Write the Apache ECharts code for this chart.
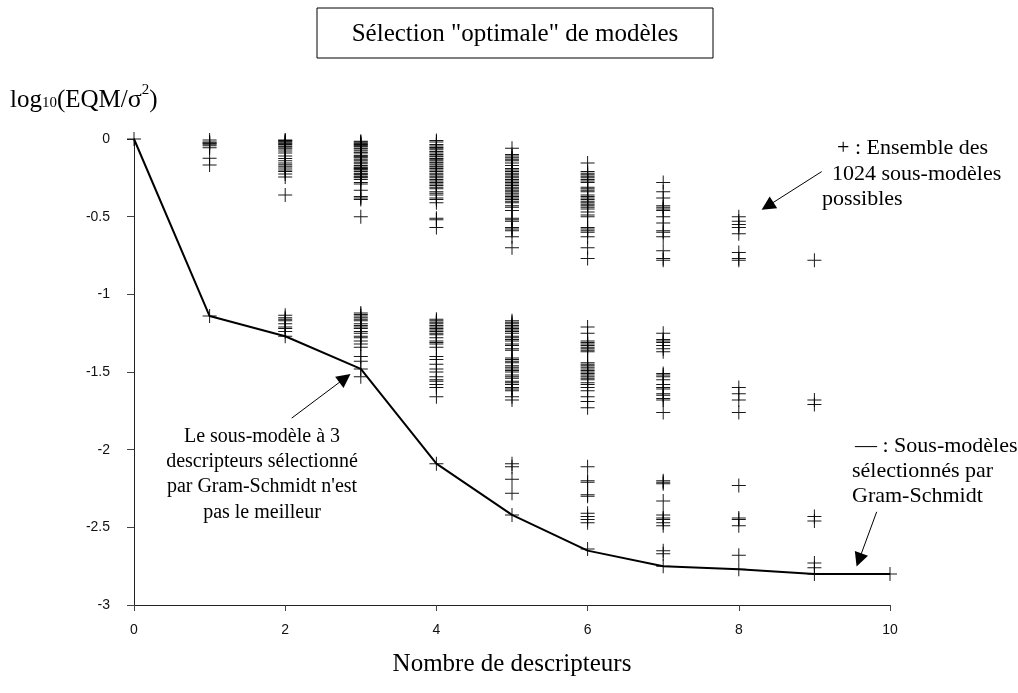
<!DOCTYPE html>
<html><head><meta charset="utf-8">
<script src="https://cdn.jsdelivr.net/npm/echarts@6/dist/echarts.min.js"></script>
<style>html,body{margin:0;padding:0;background:#fff}#c{width:1018px;height:693px}</style>
</head><body><div id="c"></div>
<script>
// x categories (number of descriptors)
var xValues = [0,1,2,3,4,5,6,7,8,9,10];
var xTicks = ['0','2','4','6','8','10'];
var yTicks = ['0','-0.5','-1','-1.5','-2','-2.5','-3'];

// all sub-models: log10(EQM/sigma^2) per number of descriptors
var col0 = [0];
var col1 = [-0.006,-0.02,-0.025,-0.028,-0.034,-0.043,-0.056,-0.124,-0.167,-1.14];
var col2 = [-0.006,-0.01,-0.015,-0.02,-0.026,-0.03,-0.035,-0.045,-0.05,-0.058,-0.065,-0.077,-0.09,-0.11,-0.125,-0.14,-0.155,-0.165,-0.175,-0.186,-0.2,-0.21,-0.225,-0.245,-0.36,
            -1.135,-1.15,-1.16,-1.17,-1.19,-1.21,-1.22,-1.24,-1.27];
var col3 = [-0.015,-0.02,-0.025,-0.03,-0.035,-0.04,-0.045,-0.05,-0.06,-0.065,-0.075,-0.085,-0.09,-0.105,-0.11,-0.115,-0.12,-0.13,-0.14,-0.15,-0.16,-0.17,-0.18,-0.185,-0.19,-0.195,-0.2,-0.21,-0.22,-0.225,-0.23,-0.24,-0.245,-0.25,-0.26,-0.28,-0.29,-0.33,-0.37,-0.38,-0.39,-0.5,
            -1.12,-1.13,-1.14,-1.15,-1.16,-1.17,-1.19,-1.2,-1.21,-1.22,-1.24,-1.25,-1.27,-1.28,-1.3,-1.32,-1.34,-1.4,-1.43,-1.48,-1.53];
var col4 = [-0.01,-0.02,-0.035,-0.045,-0.055,-0.06,-0.07,-0.08,-0.09,-0.1,-0.11,-0.115,-0.125,-0.13,-0.14,-0.15,-0.155,-0.165,-0.175,-0.18,-0.19,-0.2,-0.21,-0.22,-0.23,-0.24,-0.25,-0.26,-0.27,-0.28,-0.29,-0.3,-0.31,-0.32,-0.34,-0.35,-0.36,-0.38,-0.39,-0.41,-0.51,-0.52,-0.57,
            -1.16,-1.17,-1.18,-1.19,-1.2,-1.21,-1.22,-1.23,-1.24,-1.25,-1.26,-1.28,-1.3,-1.31,-1.32,-1.34,-1.4,-1.42,-1.45,-1.48,-1.5,-1.53,-1.55,-1.56,-1.58,-1.6,-1.66,
            -2.09];
var col5 = [-0.06,-0.1,-0.11,-0.12,-0.13,-0.14,-0.155,-0.17,-0.19,-0.2,-0.21,-0.22,-0.23,-0.24,-0.25,-0.26,-0.27,-0.28,-0.29,-0.3,-0.31,-0.32,-0.33,-0.34,-0.35,-0.36,-0.37,-0.38,-0.39,-0.4,-0.41,-0.43,-0.44,-0.46,-0.51,-0.52,-0.53,-0.57,-0.58,-0.59,-0.63,-0.7,
            -1.17,-1.18,-1.19,-1.2,-1.21,-1.22,-1.23,-1.24,-1.25,-1.27,-1.28,-1.29,-1.3,-1.32,-1.33,-1.35,-1.36,-1.41,-1.42,-1.43,-1.44,-1.46,-1.47,-1.48,-1.49,-1.5,-1.52,-1.53,-1.54,-1.56,-1.57,-1.58,-1.6,-1.61,-1.62,-1.66,-1.68,
            -2.09,-2.11,-2.19,-2.28,-2.42];
var col6 = [-0.155,-0.21,-0.22,-0.23,-0.24,-0.25,-0.26,-0.27,-0.28,-0.31,-0.32,-0.33,-0.34,-0.36,-0.37,-0.38,-0.39,-0.4,-0.41,-0.42,-0.43,-0.44,-0.45,-0.47,-0.49,-0.5,-0.57,-0.58,-0.59,-0.6,-0.63,-0.7,-0.77,
            -1.21,-1.25,-1.3,-1.31,-1.32,-1.33,-1.34,-1.35,-1.36,-1.37,-1.44,-1.45,-1.46,-1.47,-1.48,-1.49,-1.5,-1.51,-1.52,-1.53,-1.54,-1.55,-1.57,-1.58,-1.6,-1.62,-1.66,-1.69,-1.73,
            -2.11,-2.2,-2.21,-2.29,-2.3,-2.41,-2.43,-2.45,-2.47,-2.64];
var col7 = [-0.28,-0.34,-0.38,-0.43,-0.44,-0.45,-0.46,-0.5,-0.54,-0.59,-0.6,-0.63,-0.72,-0.77,-0.78,
            -1.25,-1.29,-1.3,-1.31,-1.33,-1.35,-1.37,-1.51,-1.52,-1.53,-1.55,-1.58,-1.6,-1.61,-1.64,-1.65,-1.67,-1.68,-1.76,
            -2.2,-2.21,-2.22,-2.33,-2.42,-2.44,-2.45,-2.47,-2.49,-2.65,-2.67,-2.75];
var col8 = [-0.5,-0.53,-0.55,-0.57,-0.61,-0.73,-0.77,-0.78,
            -1.6,-1.64,-1.68,-1.76,
            -2.23,-2.44,-2.45,-2.49,-2.68,-2.77];
var col9 = [-0.78,-1.68,-1.71,-2.43,-2.46,-2.73,-2.76,-2.8];
var col10 = [-2.8];

// sub-models selected by Gram-Schmidt
var gramSchmidt = [0,-1.14,-1.27,-1.48,-2.09,-2.42,-2.65,-2.75,-2.77,-2.8,-2.8];

var columns = [col0,col1,col2,col3,col4,col5,col6,col7,col8,col9,col10];
var allPoints = [];
columns.forEach(function(col, i){ col.forEach(function(v){ allPoints.push([xValues[i], v]); }); });
var linePoints = gramSchmidt.map(function(v, i){ return [xValues[i], v]; });

var serif = '"Liberation Serif","Times New Roman",serif';
var sans = '"Liberation Sans",Arial,sans-serif';
var plus = 'path://M6.5,0H7.5V6.5H14V7.5H7.5V14H6.5V7.5H0V6.5H6.5Z';

var chart = echarts.init(document.getElementById('c'), null, {renderer:'canvas'});
chart.setOption({
  animation:false,
  backgroundColor:'#fff',
  grid:{left:134, top:139, width:756, height:466, containLabel:false},
  xAxis:{type:'value', min:0, max:10, interval:2,
    name:'Nombre de descripteurs', nameLocation:'middle', nameGap:47,
    nameTextStyle:{fontFamily:serif, fontSize:25, color:'#000'},
    axisLine:{onZero:false, lineStyle:{color:'#222', width:1}},
    axisTick:{inside:false, length:6, lineStyle:{color:'#444'}},
    axisLabel:{margin:18, fontFamily:sans, fontSize:14, color:'#111',
      formatter:function(v){ return xTicks[xTicks.indexOf(String(v))] || ''; }},
    splitLine:{show:false}},
  yAxis:{type:'value', min:-3, max:0, interval:0.5,
    axisLine:{show:true, onZero:false, lineStyle:{color:'#222', width:1}},
    axisTick:{show:true, inside:false, length:7, lineStyle:{color:'#444'}},
    axisLabel:{margin:24, fontFamily:sans, fontSize:14, color:'#111',
      formatter:function(v){ var s=String(v); return yTicks.indexOf(s)>=0 ? s : ''; }},
    splitLine:{show:false}},
  series:[
    {type:'line', data:linePoints, showSymbol:false, symbol:'none', clip:false, z:3,
     lineStyle:{color:'#000', width:2},
     markLine:{silent:true, symbol:['none','triangle'], symbolSize:14, label:{show:false},
       lineStyle:{color:'#000', width:1, type:'solid'},
       itemStyle:{color:'#000'},
       data:[
         [{coord:[2.086,-1.797]},{coord:[2.79,-1.54]}],
         [{coord:[9.096,-0.21]},{coord:[8.38,-0.432]}],
         [{coord:[9.824,-2.4]},{coord:[9.59,-2.71]}]
       ]}},
    {type:'scatter', data:allPoints, symbol:plus, symbolSize:14, clip:false, z:4,
     itemStyle:{color:'#000', opacity:0.9}}
  ],
  graphic:[
    {type:'rect', shape:{x:317, y:8, width:396, height:50}, style:{fill:'#fff', stroke:'#000', lineWidth:1}},
    {type:'text', x:515, y:34, style:{text:'Sélection "optimale" de modèles', font:'25px '+serif, fill:'#000', align:'center', verticalAlign:'middle'}},
    {type:'text', x:10, y:100, style:{
      text:'{a|log}{b|10}{a|(EQM/}{s|σ}{c|2}{a|)}', verticalAlign:'middle', align:'left',
      rich:{
        a:{fontFamily:serif, fontSize:25, lineHeight:34, fill:'#000', verticalAlign:'middle'},
        s:{fontFamily:serif, fontSize:26, lineHeight:34, fill:'#000', verticalAlign:'middle'},
        b:{fontFamily:serif, fontSize:15, lineHeight:34, fill:'#000', verticalAlign:'bottom', padding:[0,0,6,0]},
        c:{fontFamily:serif, fontSize:15, lineHeight:34, fill:'#000', verticalAlign:'top'}
      }}},
    {type:'text', x:837, y:148, style:{text:'+ : Ensemble des', font:'22px '+serif, fill:'#000', verticalAlign:'middle'}},
    {type:'text', x:832, y:174, style:{text:'1024 sous-modèles', font:'22px '+serif, fill:'#000', verticalAlign:'middle'}},
    {type:'text', x:822, y:199, style:{text:'possibles', font:'22px '+serif, fill:'#000', verticalAlign:'middle'}},
    {type:'text', x:262, y:437, style:{text:'Le sous-modèle à 3', font:'20px '+serif, fill:'#000', align:'center', verticalAlign:'middle'}},
    {type:'text', x:262, y:462, style:{text:'descripteurs sélectionné', font:'20px '+serif, fill:'#000', align:'center', verticalAlign:'middle'}},
    {type:'text', x:262, y:487, style:{text:"par Gram-Schmidt n'est", font:'20px '+serif, fill:'#000', align:'center', verticalAlign:'middle'}},
    {type:'text', x:262, y:513, style:{text:'pas le meilleur', font:'20px '+serif, fill:'#000', align:'center', verticalAlign:'middle'}},
    {type:'text', x:855, y:446, style:{text:'— : Sous-modèles', font:'22px '+serif, fill:'#000', verticalAlign:'middle'}},
    {type:'text', x:852, y:471, style:{text:'sélectionnés par', font:'22px '+serif, fill:'#000', verticalAlign:'middle'}},
    {type:'text', x:852, y:496, style:{text:'Gram-Schmidt', font:'22px '+serif, fill:'#000', verticalAlign:'middle'}}
  ]
});
</script></body></html>
